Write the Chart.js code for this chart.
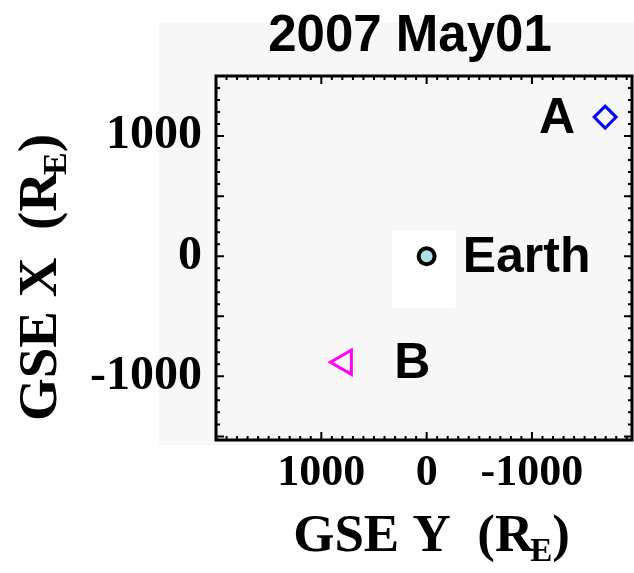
<!DOCTYPE html>
<html>
<head>
<meta charset="utf-8">
<script src="https://cdn.jsdelivr.net/npm/chart.js@4/dist/chart.umd.min.js"></script>
<style>
  html, body { margin: 0; padding: 0; background: #ffffff; overflow: hidden; }
</style>
</head>
<body>
<canvas id="myChart" width="634" height="573"></canvas>
<script>
// values (R_E)
var pointNames = ["A", "B", "Earth"];
var gseY = [-1695, 781, 0];     // horizontal axis (reversed)
var gseX = [1158, -883, 0];     // vertical axis
var xTickValues = [1000, 0, -1000];
var yTickValues = [1000, 0, -1000];
var chartTitle = "2007 May01";

var serif = '"Liberation Serif", "Times New Roman", serif';
var sans = '"Liberation Sans", Arial, sans-serif';

// grey panel behind the plot, white box behind Earth, frame with inward ticks
var decorPlugin = {
  id: "decor",
  beforeDraw: function (chart) {
    var ctx = chart.ctx;
    var a = chart.chartArea;
    ctx.save();
    ctx.fillStyle = "#f7f7f7";
    ctx.fillRect(a.left - 57, a.top - 54, chart.width - (a.left - 57), a.bottom - a.top + 59);
    ctx.restore();
  },
  beforeDatasetsDraw: function (chart) {
    var ctx = chart.ctx;
    var a = chart.chartArea;
    var xs = chart.scales.x;
    var ys = chart.scales.y;
    ctx.save();

    // white box behind the Earth marker
    var ex = xs.getPixelForValue(gseY[2]);
    var ey = ys.getPixelForValue(gseX[2]);
    ctx.fillStyle = "#ffffff";
    ctx.fillRect(ex - 35, ey - 26, 64, 78);

    // frame
    ctx.strokeStyle = "#000000";
    ctx.lineWidth = 3;
    ctx.strokeRect(a.left, a.top, a.right - a.left, a.bottom - a.top);

    ctx.lineWidth = 2;
    var v, p, len;
    for (v = -2000; v <= 2000; v += 100) {
      if (v > xs.max || v < xs.min) continue;
      p = xs.getPixelForValue(v);
      len = (v % 1000 === 0) ? 8 : 4;
      ctx.beginPath();
      ctx.moveTo(p, a.bottom); ctx.lineTo(p, a.bottom - len);
      ctx.moveTo(p, a.top); ctx.lineTo(p, a.top + len);
      ctx.stroke();
    }
    for (v = -2000; v <= 2000; v += 100) {
      if (v > ys.max || v < ys.min) continue;
      p = ys.getPixelForValue(v);
      len = (v % 500 === 0) ? 8 : 4;
      ctx.beginPath();
      ctx.moveTo(a.left, p); ctx.lineTo(a.left + len, p);
      ctx.moveTo(a.right, p); ctx.lineTo(a.right - len, p);
      ctx.stroke();
    }
    ctx.restore();
  },
  afterDraw: function (chart) {
    var ctx = chart.ctx;
    var a = chart.chartArea;
    var xs = chart.scales.x;
    var ys = chart.scales.y;
    ctx.save();

    // title
    ctx.fillStyle = "#000000";
    ctx.font = "bold 51px " + sans;
    ctx.textAlign = "center";
    ctx.textBaseline = "alphabetic";
    ctx.fillText(chartTitle, 410, 51);

    // point labels
    var offsets = [[-48, 0, "center"], [68, 0, "center"], [36, 0, "left"]];
    ctx.font = "bold 50px " + sans;
    for (var i = 0; i < pointNames.length; i++) {
      var px = xs.getPixelForValue(gseY[i]);
      var py = ys.getPixelForValue(gseX[i]);
      ctx.textAlign = offsets[i][2];
      ctx.textBaseline = "middle";
      ctx.fillText(pointNames[i], px + offsets[i][0], py + offsets[i][1] + 2);
    }

    // axis titles with subscript E
    drawSubTitle(ctx, ["GSE Y  (R", "E", ")"], (a.left + a.right) / 2 + 9, 551, 0, 53);
    drawSubTitle(ctx, ["GSE X  (R", "E", ")"], 56, (a.top + a.bottom) / 2 + 18, -Math.PI / 2, 55);
    ctx.restore();
  }
};

function drawSubTitle(ctx, parts, cx, cy, rot, size) {
  var big = "bold " + size + "px " + serif;
  var small = "bold " + Math.round(size * 0.62) + "px " + serif;
  ctx.save();
  ctx.translate(cx, cy);
  ctx.rotate(rot);
  ctx.fillStyle = "#000000";
  ctx.textBaseline = "alphabetic";
  ctx.textAlign = "left";
  ctx.font = big;
  var w0 = ctx.measureText(parts[0]).width;
  var w2 = ctx.measureText(parts[2]).width;
  ctx.font = small;
  var w1 = ctx.measureText(parts[1]).width;
  var x = -(w0 + w1 + w2) / 2;
  ctx.font = big;
  ctx.fillText(parts[0], x, 0);
  ctx.font = small;
  ctx.fillText(parts[1], x + w0 - 3, 10);
  ctx.font = big;
  ctx.fillText(parts[2], x + w0 + w1 - 3, 0);
  ctx.restore();
}

function pointSet(i, style, color, fill, radius, border, rotation) {
  return {
    label: pointNames[i],
    data: [{ x: gseY[i], y: gseX[i] }],
    pointStyle: style,
    pointRadius: radius,
    pointBorderWidth: border,
    pointBorderColor: color,
    pointBackgroundColor: fill,
    pointRotation: rotation,
    showLine: false
  };
}

var ctx = document.getElementById("myChart").getContext("2d");
var myChart = new Chart(ctx, {
  type: "scatter",
  data: {
    datasets: [
      pointSet(0, "rectRot", "#0000ff", "rgba(0,0,0,0)", 11, 3, 0),
      pointSet(1, "triangle", "#ff00ff", "rgba(0,0,0,0)", 14, 3, -90),
      pointSet(2, "circle", "#000000", "#b0e0e6", 8, 4, 0)
    ]
  },
  options: {
    responsive: false,
    animation: false,
    layout: { autoPadding: false, padding: { left: 0, top: 76, right: 2, bottom: 0 } },
    plugins: {
      legend: { display: false },
      tooltip: { enabled: false },
      title: { display: false }
    },
    scales: {
      x: {
        type: "linear",
        reverse: true,
        min: -1950,
        max: 2000,
        grid: { display: false, drawTicks: false },
        border: { display: false },
        afterBuildTicks: function (scale) {
          scale.ticks = xTickValues.map(function (v) { return { value: v }; });
        },
        afterFit: function (scale) {
          scale.height = 133;
          scale.paddingLeft = 0;
          scale.paddingRight = 0;
        },
        ticks: {
          color: "#000000",
          padding: 7,
          maxRotation: 0,
          font: { family: serif, size: 44, weight: "bold" },
          callback: function (v) { return String(v); }
        }
      },
      y: {
        type: "linear",
        min: -1530,
        max: 1500,
        grid: { display: false, drawTicks: false },
        border: { display: false },
        afterBuildTicks: function (scale) {
          scale.ticks = yTickValues.map(function (v) { return { value: v }; });
        },
        afterFit: function (scale) {
          scale.width = 216;
          scale.paddingTop = 0;
          scale.paddingBottom = 0;
        },
        ticks: {
          color: "#000000",
          padding: 14,
          font: { family: serif, size: 48, weight: "bold" },
          callback: function (v) { return String(v); }
        }
      }
    }
  },
  plugins: [decorPlugin]
});
</script>
</body>
</html>
